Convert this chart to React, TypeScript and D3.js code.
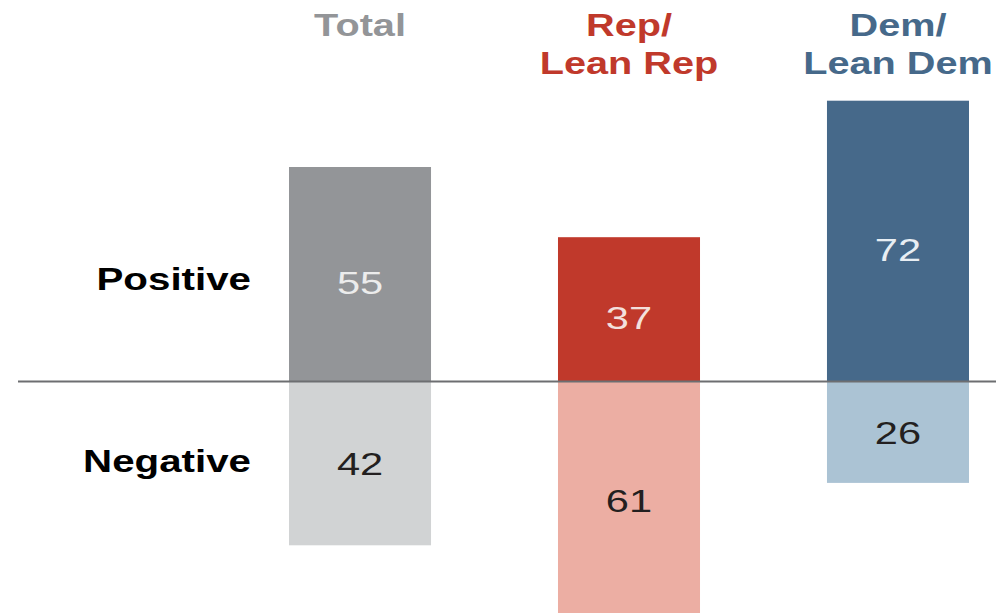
import * as d3 from 'd3'

// groups and their shares (%)
const groups = ['Total', 'Rep/Lean Rep', 'Dem/Lean Dem']
const headerLines = [['Total'], ['Rep/', 'Lean Rep'], ['Dem/', 'Lean Dem']]
const positive = [55, 37, 72]
const negative = [42, 61, 26]
const rowLabels = ['Positive', 'Negative']

const posColors = ['#939598', '#c0392b', '#46698a']
const negColors = ['#d1d3d4', '#ecaea3', '#abc3d4']
const headColors = ['#939598', '#c0392b', '#46698a']
const posText = ['#ececec', '#f3e0dc', '#e8eef3']

const W = 1000
const H = 613
const FONT = '"Liberation Sans", Arial, sans-serif'

export default function App() {
  const x = d3.scaleBand<string>().domain(groups).range([289, 969]).paddingInner(0.472).paddingOuter(0)
  const y = d3.scaleLinear().domain([-61, 72]).range([381.5 + 61 * 3.9, 381.5 - 72 * 3.9])
  const bw = x.bandwidth()

  return (
    <svg width={W} height={H} style={{ position: 'absolute', left: 0, top: 0, background: '#fff' }}>
      {/* column headers */}
      {groups.map((g, i) => (
        <g key={'h' + g}>
          {headerLines[i].map((line, j) => (
            <text key={line}
              transform={`translate(${x(g)! + bw / 2},${36 + j * 38}) scale(1.28,1)`}
              textAnchor="middle" fontFamily={FONT} fontWeight="bold" fontSize={31}
              fill={headColors[i]}>{line}</text>
          ))}
        </g>
      ))}

      {/* bars */}
      {groups.map((g, i) => (
        <g key={'b' + g}>
          <rect x={x(g)} y={y(positive[i])} width={bw} height={y(0) - y(positive[i])} fill={posColors[i]} />
          <rect x={x(g)} y={y(0)} width={bw} height={y(-negative[i]) - y(0)} fill={negColors[i]} />
          <text transform={`translate(${x(g)! + bw / 2},${(y(positive[i]) + y(0)) / 2 + 20}) scale(1.3,1)`}
            textAnchor="middle" fontFamily={FONT} fontSize={32} fill={posText[i]}>{positive[i]}</text>
          <text transform={`translate(${x(g)! + bw / 2},${(y(0) + y(-negative[i])) / 2 + 12}) scale(1.3,1)`}
            textAnchor="middle" fontFamily={FONT} fontSize={32} fill="#231f20">{negative[i]}</text>
        </g>
      ))}

      {/* zero line */}
      <line x1={18} x2={996} y1={y(0)} y2={y(0)} stroke="#6d6e71" strokeWidth={2} />

      {/* row labels */}
      {rowLabels.map((r, i) => (
        <text key={r} transform={`translate(251,${i === 0 ? 290 : 472}) scale(1.3,1)`}
          textAnchor="end" fontFamily={FONT} fontWeight="bold" fontSize={31} fill="#000">{r}</text>
      ))}
    </svg>
  )
}
